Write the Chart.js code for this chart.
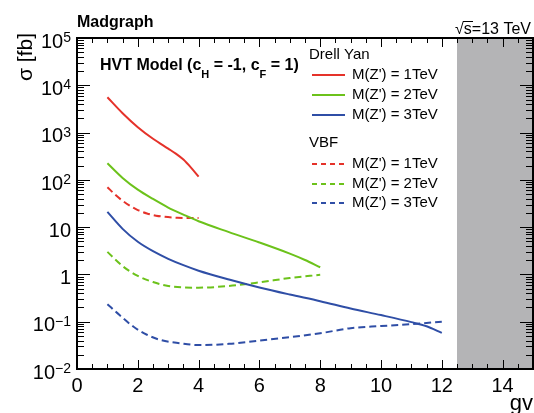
<!DOCTYPE html>
<html>
<head>
<meta charset="utf-8">
<script src="https://cdn.jsdelivr.net/npm/chart.js@4.4.1/dist/chart.umd.min.js"></script>
<style>
html,body{margin:0;padding:0;background:#fff;}
canvas{display:block;}
</style>
</head>
<body>
<canvas id="c" width="534" height="413" style="width:534px;height:413px"></canvas>
<script>
// ---- data ----
const xDY1 = [1, 1.5, 2, 2.5, 3, 3.25, 3.5, 3.75, 4];
const yDY1 = [5600, 2570, 1300, 740, 457, 359, 269, 182, 117];

const xDY2 = [1, 1.5, 2, 2.5, 3, 3.5, 4, 5, 6, 7, 7.5, 8];
const yDY2 = [225, 110, 62, 39.4, 26, 18.4, 13.3, 7.85, 4.73, 2.75, 2.02, 1.42];

const xDY3 = [1, 1.5, 2, 2.5, 3, 3.5, 4, 5, 6, 7, 8, 9, 10, 11, 11.5, 12];
const yDY3 = [21, 9.2, 4.9, 3.1, 2.14, 1.57, 1.2, 0.78, 0.53, 0.376, 0.272, 0.19, 0.138, 0.098, 0.08, 0.058];

const xVBF1 = [1, 1.25, 1.5, 1.75, 2, 2.3, 2.6, 3.3, 4];
const yVBF1 = [70, 49, 36, 28, 23, 19.5, 17.5, 15.8, 15.6];

const xVBF2 = [1, 1.5, 2, 2.5, 3, 4, 5, 6, 7, 8];
const yVBF2 = [3.0, 1.5, 0.93, 0.69, 0.57, 0.525, 0.57, 0.68, 0.84, 0.98];

const xVBF3 = [1, 1.4, 1.85, 2.3, 2.75, 3.4, 4, 5, 6, 7, 8, 9, 10, 11, 12];
const yVBF3 = [0.235, 0.138, 0.079, 0.053, 0.041, 0.035, 0.032, 0.034, 0.04, 0.047, 0.057, 0.073, 0.081, 0.089, 0.1];

const legendLabels = ["M(Z') = 1TeV", "M(Z') = 2TeV", "M(Z') = 3TeV"];
const xTickValues = [0, 2, 4, 6, 8, 10, 12, 14];
const xMinorStep = 0.5;
const yDecades = [-2, -1, 0, 1, 2, 3, 4, 5];
const shadeRange = [12.5, 15];

const RED = '#e5322a', GREEN = '#6cc21b', BLUE = '#2f4ea6', GREY = '#b4b4b6';
const FONT = '"Liberation Sans", Arial, Helvetica, sans-serif';

function pts(xs, ys) { return xs.map((x, i) => ({ x: x, y: ys[i] })); }
function ds(xs, ys, color, dashed) {
  return {
    data: pts(xs, ys),
    borderColor: color,
    borderWidth: 2,
    borderDash: dashed ? [7, 4] : [],
    pointRadius: 0,
    fill: false,
    cubicInterpolationMode: 'monotone'
  };
}

const labels = {
  id: 'labels',
  afterDraw(chart) {
    const ctx = chart.ctx;
    const xs = chart.scales.x, ys = chart.scales.y;
    ctx.save();
    ctx.fillStyle = '#000';
    ctx.font = '20px ' + FONT;
    ctx.textAlign = 'center';
    ctx.textBaseline = 'middle';
    xTickValues.forEach(v => ctx.fillText(String(v), xs.getPixelForValue(v), 386));

    const right = 71;
    yDecades.forEach(e => {
      const py = ys.getPixelForValue(Math.pow(10, e));
      ctx.textAlign = 'right';
      ctx.textBaseline = 'alphabetic';
      if (e === 0 || e === 1) {
        ctx.font = '20px ' + FONT;
        ctx.fillText(e === 0 ? '1' : '10', right, py + 9.7);
      } else {
        const sup = e < 0 ? '\u2212' + (-e) : String(e);
        ctx.font = '14px ' + FONT;
        const sw = ctx.measureText(sup).width;
        ctx.fillText(sup, right, py + 4);
        ctx.font = '20px ' + FONT;
        ctx.fillText('10', right - sw, py + 9.7);
      }
    });

    ctx.font = '22px ' + FONT;
    ctx.textAlign = 'right';
    ctx.textBaseline = 'alphabetic';
    ctx.fillText('gv', 533, 410);
    ctx.save();
    ctx.translate(26, 33);
    ctx.rotate(-Math.PI / 2);
    ctx.font = '21px ' + FONT;
    ctx.textAlign = 'right';
    ctx.textBaseline = 'middle';
    ctx.fillText('\u03c3 [fb]', 0, 0);
    ctx.restore();

    ctx.font = 'bold 16px ' + FONT;
    ctx.textAlign = 'left';
    ctx.textBaseline = 'alphabetic';
    ctx.fillText('Madgraph', 77, 27);

    ctx.font = '16px ' + FONT;
    const sq = '\u221a', rest = 's=13 TeV';
    const wsq = ctx.measureText(sq).width, wrest = ctx.measureText(rest).width, ws = ctx.measureText('s').width;
    const sx = 531 - wsq - wrest;
    ctx.fillText(sq, sx, 34);
    ctx.fillText(rest, sx + wsq, 34);
    ctx.fillRect(Math.round(sx + wsq - 1), 21, Math.round(ws + 1.5), 1);

    let cx = 100;
    const base = 70;
    const segs = [
      ['HVT Model (c', 0], ['H', 1], [' = -1, c', 0], ['F', 1], [' = 1)', 0]
    ];
    segs.forEach(([t, sub]) => {
      ctx.font = (sub ? 'bold 11px ' : 'bold 16px ') + FONT;
      ctx.fillText(t, cx, sub ? base + 8 : base);
      cx += ctx.measureText(t).width;
    });

    ctx.font = '15px ' + FONT;
    ctx.textBaseline = 'middle';
    ctx.fillText('Drell Yan', 309, 55);
    ctx.fillText('VBF', 309, 143);
    const cols = [RED, GREEN, BLUE];
    const rowsDY = [75, 95, 115];
    const rowsV = [164, 184, 203];
    ctx.lineWidth = 2;
    cols.forEach((c, i) => {
      ctx.strokeStyle = c;
      ctx.setLineDash([]);
      ctx.beginPath(); ctx.moveTo(312, rowsDY[i]); ctx.lineTo(345, rowsDY[i]); ctx.stroke();
      ctx.setLineDash([5, 4]);
      ctx.beginPath(); ctx.moveTo(312, rowsV[i]); ctx.lineTo(345, rowsV[i]); ctx.stroke();
      ctx.fillStyle = '#000';
      ctx.fillText(legendLabels[i], 352, rowsDY[i]);
      ctx.fillText(legendLabels[i], 352, rowsV[i]);
    });
    ctx.setLineDash([]);
    ctx.restore();
  }
};

const frame = {
  id: 'frame',
  afterDraw(chart) {
    const ctx = chart.ctx;
    const a = chart.chartArea;
    const xs = chart.scales.x, ys = chart.scales.y;
    const L = Math.round(a.left), R = Math.round(a.right), T = Math.round(a.top), B = Math.round(a.bottom);
    ctx.save();
    ctx.setLineDash([]);
    ctx.globalAlpha = 1;
    ctx.globalCompositeOperation = 'source-over';
    ctx.fillStyle = '#000';
    ctx.fillRect(L - 1, T - 1, R - L + 2, 2);
    ctx.fillRect(L - 1, B - 1, R - L + 2, 2);
    ctx.fillRect(L - 1, T - 1, 2, B - T + 2);
    ctx.fillRect(R - 1, T - 1, 2, B - T + 2);
    for (let i = 0; i <= 30; i++) {
      const px = Math.round(xs.getPixelForValue(i * xMinorStep));
      const len = (i % 4 === 0) ? 9 : 5;
      ctx.fillRect(px, B - len, 1, len);
      ctx.fillRect(px, T, 1, len);
    }
    yDecades.forEach(e => {
      for (let m = 1; m <= 9; m++) {
        if (e === 5 && m > 1) break;
        const py = Math.round(ys.getPixelForValue(m * Math.pow(10, e)));
        const len = m === 1 ? 13 : 7;
        ctx.fillRect(L, py, len, 1);
        ctx.fillRect(R - len, py, len, 1);
      }
    });
    ctx.restore();
  }
};

new Chart(document.getElementById('c'), {
  type: 'line',
  data: {
    datasets: [
      ds(xDY1, yDY1, RED, false),
      ds(xDY2, yDY2, GREEN, false),
      ds(xDY3, yDY3, BLUE, false),
      ds(xVBF1, yVBF1, RED, true),
      ds(xVBF2, yVBF2, GREEN, true),
      ds(xVBF3, yVBF3, BLUE, true),
      {
        data: [{ x: shadeRange[0], y: 1e5 }, { x: shadeRange[1], y: 1e5 }],
        borderWidth: 0,
        borderColor: 'rgba(0,0,0,0)',
        backgroundColor: GREY,
        fill: 'start',
        pointRadius: 0,
        tension: 0
      }
    ]
  },
  options: {
    responsive: false,
    animation: false,
    devicePixelRatio: 1,
    layout: { padding: { left: 77, right: 1, top: 38, bottom: 44 } },
    plugins: { legend: { display: false }, tooltip: { enabled: false } },
    scales: {
      x: { type: 'linear', min: 0, max: 15, display: false },
      y: { type: 'logarithmic', min: 0.01, max: 1e5, display: false }
    }
  },
  plugins: [labels, frame]
});
</script>
</body>
</html>
